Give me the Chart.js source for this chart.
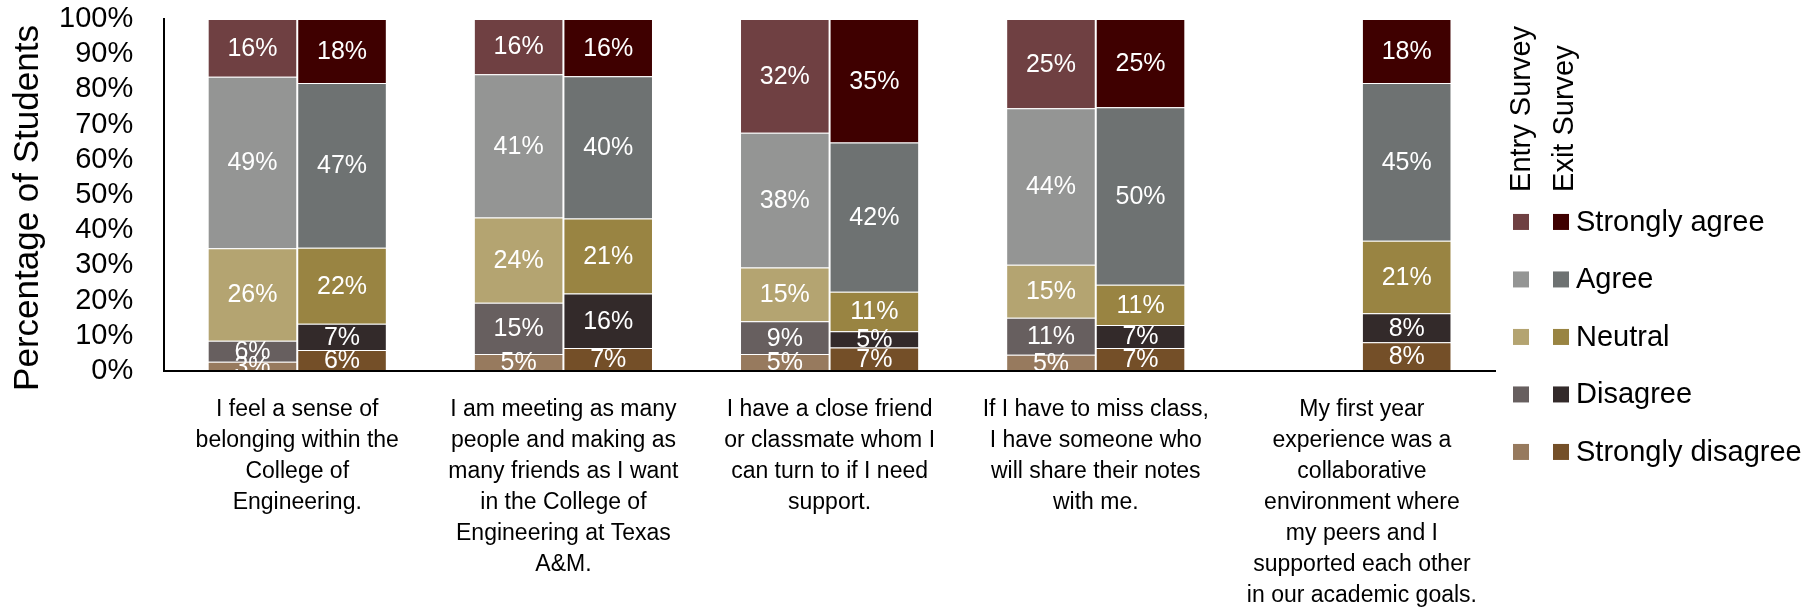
<!DOCTYPE html>
<html><head><meta charset="utf-8">
<script src="https://cdn.jsdelivr.net/npm/chart.js@4/dist/chart.umd.min.js"></script>
<style>html,body{margin:0;padding:0;background:#fff;}canvas{display:block}</style>
</head><body>
<canvas id="c" width="1820" height="611" style="width:1820px;height:611px"></canvas>
<script>
// ---- data ----
const categories = [
  ["I feel a sense of", "belonging within the", "College of", "Engineering."],
  ["I am meeting as many", "people and making as", "many friends as I want", "in the College of", "Engineering at Texas", "A&M."],
  ["I have a close friend", "or classmate whom I", "can turn to if I need", "support."],
  ["If I have to miss class,", "I have someone who", "will share their notes", "with me."],
  ["My first year", "experience was a", "collaborative", "environment where", "my peers and I", "supported each other", "in our academic goals."]
];
const levels = ["Strongly disagree", "Disagree", "Neutral", "Agree", "Strongly agree"];
const surveys = ["Entry Survey", "Exit Survey"];
const yTitle = "Percentage of Students";
const yTicks = [0, 10, 20, 30, 40, 50, 60, 70, 80, 90, 100];

const entryStronglyDisagree = [2.6, 4.8, 4.8, 4.6, null];
const entryDisagree         = [6.0, 14.6, 9.3, 10.5, null];
const entryNeutral          = [26.3, 24.2, 15.3, 15.1, null];
const entryAgree            = [48.7, 40.7, 38.3, 44.4, null];
const entryStronglyAgree    = [16.4, 15.7, 32.3, 25.4, null];

const exitStronglyDisagree  = [6.0, 6.5, 6.7, 6.5, 8.2];
const exitDisagree          = [7.4, 15.5, 4.6, 6.6, 8.2];
const exitNeutral           = [21.6, 21.3, 11.2, 11.4, 20.6];
const exitAgree             = [46.8, 40.4, 42.4, 50.4, 44.8];
const exitStronglyAgree     = [18.2, 16.3, 35.1, 25.1, 18.2];

const entryColors = ["#977a5e", "#675f5f", "#b4a471", "#949594", "#6f4042"];
const exitColors  = ["#744f28", "#332a2a", "#998442", "#6e7272", "#3f0000"];

const entrySeries = [entryStronglyDisagree, entryDisagree, entryNeutral, entryAgree, entryStronglyAgree];
const exitSeries  = [exitStronglyDisagree, exitDisagree, exitNeutral, exitAgree, exitStronglyAgree];

const FONT = "'Liberation Sans', Arial, sans-serif";
const SEG_BORDER = "rgba(255,255,255,0.22)";

const datasets = [];
levels.forEach((lv, i) => {
  datasets.push({ label: lv + " (" + surveys[0] + ")", data: entrySeries[i], stack: "entry",
    backgroundColor: entryColors[i], borderColor: SEG_BORDER, borderWidth: 1 });
  datasets.push({ label: lv + " (" + surveys[1] + ")", data: exitSeries[i], stack: "exit",
    backgroundColor: exitColors[i], borderColor: SEG_BORDER, borderWidth: 1 });
});

const valueLabels = {
  id: "valueLabels",
  afterDatasetsDraw(chart) {
    const ctx = chart.ctx;
    ctx.save();
    ctx.font = "25px " + FONT;
    ctx.fillStyle = "#ffffff";
    ctx.textAlign = "center";
    ctx.textBaseline = "middle";
    chart.data.datasets.forEach((ds, di) => {
      const meta = chart.getDatasetMeta(di);
      meta.data.forEach((el, j) => {
        const v = ds.data[j];
        if (v === null || v === undefined) return;
        const p = el.getProps(["x", "y", "base"], true);
        ctx.fillText(Math.round(v) + "%", p.x, (p.y + p.base) / 2 + 1);
      });
    });
    ctx.restore();
  }
};

const axisTitle = {
  id: "axisTitle",
  afterDraw(chart) {
    const ctx = chart.ctx;
    const ca = chart.chartArea;
    ctx.save();
    ctx.fillStyle = "#000";
    ctx.font = "35px " + FONT;
    ctx.translate(28, (ca.top + ca.bottom) / 2 + 13);
    ctx.rotate(-Math.PI / 2);
    ctx.textAlign = "center";
    ctx.textBaseline = "middle";
    ctx.fillText(yTitle, 0, 0);
    ctx.restore();
  }
};

const customLegend = {
  id: "customLegend",
  afterDraw(chart) {
    const ctx = chart.ctx;
    const ax = chart.chartArea.right;
    const top = chart.chartArea.top;
    ctx.save();
    ctx.fillStyle = "#000";
    ctx.font = "29px " + FONT;
    const headerX = [ax + 35, ax + 78];
    surveys.forEach((s, k) => {
      ctx.save();
      ctx.translate(headerX[k], top + 173);
      ctx.rotate(-Math.PI / 2);
      ctx.textAlign = "left";
      ctx.textBaseline = "alphabetic";
      ctx.fillText(s, 0, 0);
      ctx.restore();
    });
    const swX = [ax + 18, ax + 58];
    const sz = 16;
    for (let r = 0; r < levels.length; r++) {
      const li = levels.length - 1 - r;
      const cy = top + 203 + r * 57.5;
      ctx.fillStyle = entryColors[li];
      ctx.fillRect(swX[0], cy - sz / 2, sz, sz);
      ctx.fillStyle = exitColors[li];
      ctx.fillRect(swX[1], cy - sz / 2, sz, sz);
      ctx.fillStyle = "#000";
      ctx.textAlign = "left";
      ctx.textBaseline = "middle";
      ctx.fillText(levels[li], ax + 81, cy + 1);
    }
    ctx.restore();
  }
};

new Chart(document.getElementById("c"), {
  type: "bar",
  data: { labels: categories, datasets },
  options: {
    responsive: false,
    devicePixelRatio: 1,
    animation: false,
    layout: { padding: { left: 56, right: 325, top: 0, bottom: 0 } },
    datasets: { bar: { categoryPercentage: 0.673, barPercentage: 1.0 } },
    plugins: { legend: { display: false }, tooltip: { enabled: false } },
    scales: {
      x: {
        stacked: true,
        grid: { display: true, drawOnChartArea: false, drawTicks: true, tickLength: 23, color: "rgba(0,0,0,0)" },
        border: { display: true, color: "#000", width: 2, z: 1 },
        ticks: { color: "#000", font: { family: FONT, size: 23, lineHeight: 31 / 23 }, padding: 0, maxRotation: 0, minRotation: 0, autoSkip: false }
      },
      y: {
        stacked: true,
        min: 0, max: 100,
        afterBuildTicks(scale) { scale.ticks = yTicks.map(v => ({ value: v })); },
        grid: { display: true, drawOnChartArea: false, drawTicks: true, tickLength: 28, color: "rgba(0,0,0,0)" },
        border: { display: true, color: "#000", width: 2, z: 1 },
        ticks: { color: "#000", font: { family: FONT, size: 29, lineHeight: 1.1 }, padding: 3, autoSkip: false, callback: v => v + "%" },
        title: { display: false }
      }
    }
  },
  plugins: [valueLabels, axisTitle, customLegend]
});
</script>
</body></html>
